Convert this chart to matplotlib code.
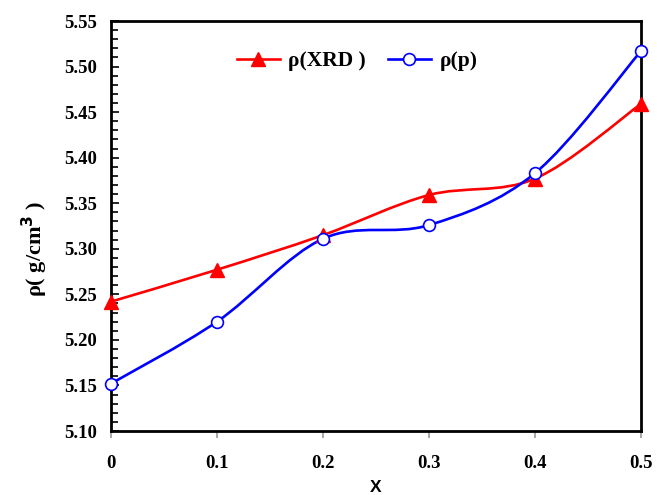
import numpy as np
import matplotlib
matplotlib.use("Agg")
import matplotlib.pyplot as plt
from matplotlib.path import Path
from matplotlib.patches import PathPatch
from matplotlib.lines import Line2D
from matplotlib.ticker import MultipleLocator, FixedLocator

x_vals = [0.0, 0.1, 0.2, 0.3, 0.4, 0.5]
rho_xrd = [5.242, 5.277, 5.315, 5.359, 5.377, 5.459]
rho_p = [5.152, 5.220, 5.311, 5.326, 5.383, 5.517]
x_ticks = [0, 0.1, 0.2, 0.3, 0.4, 0.5]
x_tick_labels = ["0", "0.1", "0.2", "0.3", "0.4", "0.5"]
y_ticks = [5.10, 5.15, 5.20, 5.25, 5.30, 5.35, 5.40, 5.45, 5.50, 5.55]

serif = "Liberation Serif"
sans = "Liberation Sans"


def smooth_path(xs, ys, t=1/6):
    # Excel-like smoothed line (Catmull-Rom as cubic Bezier segments)
    xs = np.asarray(xs, float)
    ys = np.asarray(ys, float)
    n = len(xs)
    verts = [(xs[0], ys[0])]
    codes = [Path.MOVETO]
    for i in range(n - 1):
        p0 = (xs[max(i - 1, 0)], ys[max(i - 1, 0)])
        p1 = (xs[i], ys[i])
        p2 = (xs[i + 1], ys[i + 1])
        p3 = (xs[min(i + 2, n - 1)], ys[min(i + 2, n - 1)])
        c1 = (p1[0] + (p2[0] - p0[0]) * t, p1[1] + (p2[1] - p0[1]) * t)
        c2 = (p2[0] - (p3[0] - p1[0]) * t, p2[1] - (p3[1] - p1[1]) * t)
        verts += [c1, c2, p2]
        codes += [Path.CURVE4] * 3
    return Path(verts, codes)


fig = plt.figure(figsize=(6.57, 4.95), dpi=100)
ax = fig.add_axes([111 / 657, 1 - 431 / 495, 530 / 657, 410 / 495])

for ys, col in [(rho_xrd, "#FF0000"), (rho_p, "#0000FF")]:
    ax.add_patch(PathPatch(smooth_path(x_vals, ys), facecolor="none",
                           edgecolor=col, lw=1.9, zorder=3))

ax.plot(x_vals, rho_xrd, linestyle="none", marker="^", ms=10,
        color="#FF0000", mec="#FF0000", zorder=4, clip_on=False)
ax.plot(x_vals, rho_p, linestyle="none", marker="o", ms=8.5,
        mfc="white", mec="#0000FF", mew=1.2, zorder=5, clip_on=False)

ax.set_xlim(0, 0.5)
ax.set_ylim(5.10, 5.55)
ax.xaxis.set_major_locator(FixedLocator(x_ticks))
ax.set_xticklabels(x_tick_labels)
ax.yaxis.set_major_locator(FixedLocator(y_ticks))
ax.set_yticklabels([f"{v:.2f}" for v in y_ticks])
ax.yaxis.set_minor_locator(MultipleLocator(0.01))

for lab in ax.get_xticklabels() + ax.get_yticklabels():
    lab.set_fontfamily(serif)
    lab.set_fontweight("bold")
    lab.set_fontsize(13.5)

ax.tick_params(axis="y", which="both", direction="in", left=True, right=False,
               color="black", width=1.2)
ax.tick_params(axis="y", which="major", length=6, pad=10)
ax.tick_params(axis="y", which="minor", length=5)
ax.tick_params(axis="x", which="major", direction="out", length=5,
               color="#999999", width=1.2, pad=12)

for s in ax.spines.values():
    s.set_linewidth(2)
    s.set_color("black")

ax.set_xlabel("X", fontfamily=sans, fontweight="bold", fontsize=12.5)
ax.xaxis.set_label_coords((376 - 111) / 530, -(488 - 431) / 410)
ax.xaxis.label.set_va("center")
ax.set_ylabel(r"ρ( g/cm$^{\mathbf{3}}$ )", fontfamily=serif, fontweight="bold",
              fontsize=16)
ax.yaxis.set_label_coords(-(111 - 35) / 530, (431 - 249) / 410)
ax.yaxis.label.set_va("center")

handles = [
    Line2D([], [], color="#FF0000", lw=1.9, marker="^", ms=10),
    Line2D([], [], color="#0000FF", lw=1.9, marker="o", ms=8.5,
           mfc="white", mec="#0000FF", mew=1.2),
]
leg = ax.legend(handles, ["ρ(XRD )", "ρ(p)"], loc="center",
                bbox_to_anchor=((357 - 111) / 530, (431 - 61) / 410), ncol=2,
                frameon=False, handlelength=2.0, columnspacing=1.0,
                handletextpad=0.4,
                prop={"family": serif, "weight": "bold", "size": 15.5})

fig.savefig("out.png", dpi=100)
